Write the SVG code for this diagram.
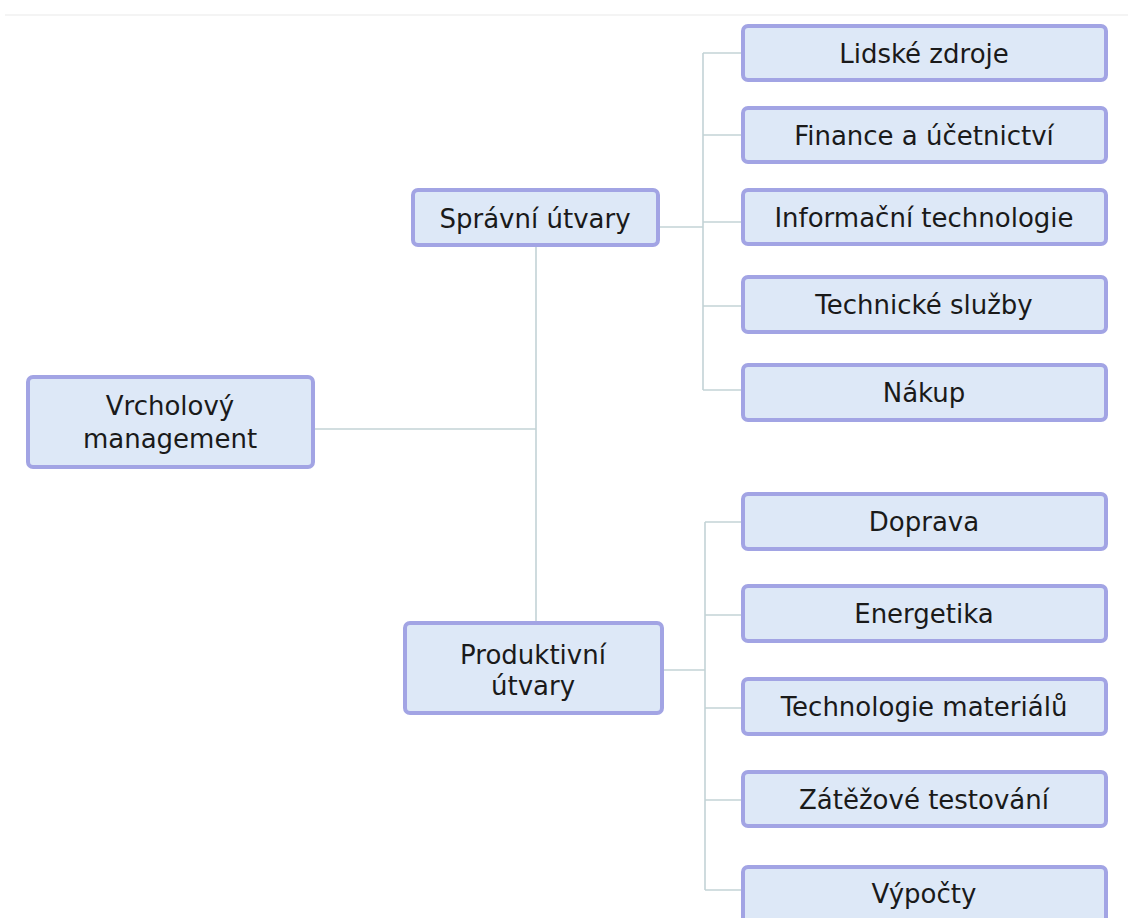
<svg xmlns="http://www.w3.org/2000/svg" width="1128" height="918" viewBox="0 0 1128 918">
<style>
.box{fill:#dde8f7;stroke:#a2a4e4;stroke-width:4;}
.t{font-family:"DejaVu Sans",Verdana,sans-serif;font-size:26px;fill:#1a1a1a;text-anchor:middle;}
.c{fill:none;stroke:#c3d3d6;stroke-width:1.6;}
</style>
<rect width="1128" height="918" fill="#ffffff"/>
<line x1="5" y1="15" x2="1128" y2="15" stroke="#f0f0f0" stroke-width="1.5"/>

<g id="connectors">
<path class="c" d="M313 429 H536 M536 245 V623"/>
<path class="c" d="M658 227 H703 M703 53 V390 M703 53 H743 M703 135 H743 M703 222 H743 M703 306 H743 M703 390 H743"/>
<path class="c" d="M662 670 H705 M705 522 V890 M705 522 H743 M705 615 H743 M705 708 H743 M705 800 H743 M705 890 H743"/>
</g>

<g id="n-vrcholovy">
<rect class="box" x="28" y="377" width="285" height="90" rx="5"/>
<text class="t" x="170" y="415">Vrcholový</text>
<text class="t" x="170" y="448">management</text>
</g>

<g id="n-spravni">
<rect class="box" x="413" y="190" width="245" height="55" rx="5"/>
<text class="t" x="535" y="228">Správní útvary</text>
</g>

<g id="n-produktivni">
<rect class="box" x="405" y="623" width="257" height="90" rx="5"/>
<text class="t" x="533" y="664">Produktivní</text>
<text class="t" x="533" y="695">útvary</text>
</g>

<g id="n-lidske">
<rect class="box" x="743" y="26" width="363" height="54" rx="5"/>
<text class="t" x="924" y="63">Lidské zdroje</text>
</g>
<g id="n-finance">
<rect class="box" x="743" y="108" width="363" height="54" rx="5"/>
<text class="t" x="924" y="145">Finance a účetnictví</text>
</g>
<g id="n-informacni">
<rect class="box" x="743" y="190" width="363" height="54" rx="5"/>
<text class="t" x="924" y="227">Informační technologie</text>
</g>
<g id="n-technicke">
<rect class="box" x="743" y="277" width="363" height="55" rx="5"/>
<text class="t" x="924" y="314">Technické služby</text>
</g>
<g id="n-nakup">
<rect class="box" x="743" y="365" width="363" height="55" rx="5"/>
<text class="t" x="924" y="402">Nákup</text>
</g>
<g id="n-doprava">
<rect class="box" x="743" y="494" width="363" height="55" rx="5"/>
<text class="t" x="924" y="531">Doprava</text>
</g>
<g id="n-energetika">
<rect class="box" x="743" y="586" width="363" height="55" rx="5"/>
<text class="t" x="924" y="623">Energetika</text>
</g>
<g id="n-technologie">
<rect class="box" x="743" y="679" width="363" height="55" rx="5"/>
<text class="t" x="924" y="716">Technologie materiálů</text>
</g>
<g id="n-zatezove">
<rect class="box" x="743" y="772" width="363" height="54" rx="5"/>
<text class="t" x="924" y="809">Zátěžové testování</text>
</g>
<g id="n-vypocty">
<rect class="box" x="743" y="867" width="363" height="60" rx="5"/>
<text class="t" x="924" y="903">Výpočty</text>
</g>
</svg>
